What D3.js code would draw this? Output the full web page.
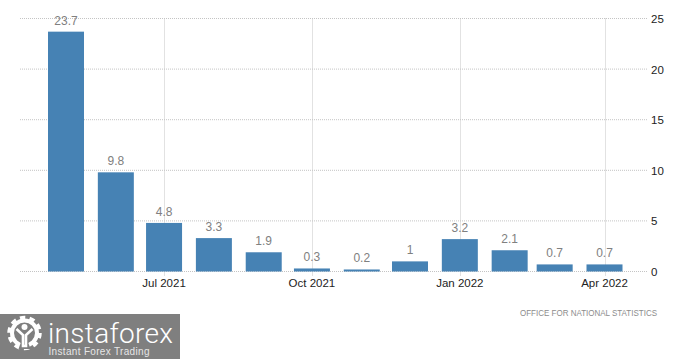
<!DOCTYPE html>
<html>
<head>
<meta charset="utf-8">
<script src="https://cdn.jsdelivr.net/npm/d3@7/dist/d3.min.js"></script>
<style>
  body { margin: 0; background: #fff; }
  svg { display: block; font-family: "Liberation Sans", Arial, sans-serif; }
</style>
</head>
<body>
<svg id="chart"></svg>
<script>
// Chart data
var months = ["2021-05-01", "2021-06-01", "2021-07-01", "2021-08-01", "2021-09-01", "2021-10-01",
              "2021-11-01", "2021-12-01", "2022-01-01", "2022-02-01", "2022-03-01", "2022-04-01"];
var values = [23.7, 9.8, 4.8, 3.3, 1.9, 0.3, 0.2, 1, 3.2, 2.1, 0.7, 0.7];
var xTickMonths = ["2021-07-01", "2021-10-01", "2022-01-01", "2022-04-01"];
var yTicks = [0, 5, 10, 15, 20, 25];
var sourceLabel = "OFFICE FOR NATIONAL STATISTICS";

// General setup
var width = 700;
var height = 359;
var svg = d3.select("#chart")
  .attr("width", width)
  .attr("height", height);

var parseDate = d3.utcParse("%Y-%m-%d");
var formatMonth = d3.utcFormat("%b %Y");

var x = d3.scaleUtc()
  .domain([parseDate(months[0]), parseDate(months[months.length - 1])])
  .range([66, 604.5]);

var y = d3.scaleLinear()
  .domain([0, 25])
  .range([271.5, 18.5]);

var barWidth = 36;
var gridLeft = 20;
var gridRight = 648;

// Horizontal grid
svg.append("g")
  .selectAll("line")
  .data(yTicks)
  .join("line")
  .attr("x1", gridLeft)
  .attr("x2", gridRight)
  .attr("y1", d => y(d))
  .attr("y2", d => y(d))
  .attr("stroke", "#c4c4c4")
  .attr("stroke-dasharray", "1 1");

// Vertical grid, runs a little past the baseline as a tick
svg.append("g")
  .selectAll("line")
  .data(xTickMonths)
  .join("line")
  .attr("x1", d => Math.round(x(parseDate(d))) + 0.5)
  .attr("x2", d => Math.round(x(parseDate(d))) + 0.5)
  .attr("y1", y(25))
  .attr("y2", y(0) + 5)
  .attr("stroke", "#c4c4c4")
  .attr("stroke-dasharray", "1 1");

// Bars
svg.append("g")
  .selectAll("rect")
  .data(months)
  .join("rect")
  .attr("x", d => x(parseDate(d)) - barWidth / 2)
  .attr("width", barWidth)
  .attr("y", (d, i) => y(values[i]))
  .attr("height", (d, i) => y(0) - y(values[i]))
  .attr("fill", "#4682b4");

// Value labels
svg.append("g")
  .selectAll("text")
  .data(months)
  .join("text")
  .attr("x", d => x(parseDate(d)))
  .attr("y", (d, i) => y(values[i]) - 7)
  .attr("text-anchor", "middle")
  .attr("font-size", 12)
  .attr("fill", "#808080")
  .text((d, i) => values[i]);

// Axis labels
svg.append("g")
  .selectAll("text")
  .data(xTickMonths)
  .join("text")
  .attr("x", d => x(parseDate(d)))
  .attr("y", 287)
  .attr("text-anchor", "middle")
  .attr("font-size", 11.5)
  .attr("fill", "#222")
  .text(d => formatMonth(parseDate(d)));

svg.append("g")
  .selectAll("text")
  .data(yTicks)
  .join("text")
  .attr("x", 651)
  .attr("y", d => y(d) + 4.5)
  .attr("font-size", 11.5)
  .attr("fill", "#222")
  .text(d => d);

svg.append("text")
  .attr("x", 520)
  .attr("y", 315.5)
  .attr("font-size", 9)
  .attr("textLength", 137)
  .attr("lengthAdjust", "spacingAndGlyphs")
  .attr("fill", "#8c8c8c")
  .text(sourceLabel);

// Watermark in the bottom left corner
var logo = svg.append("g");
logo.append("rect")
  .attr("y", 314)
  .attr("width", 180)
  .attr("height", 45)
  .attr("fill", "#7f7f7f");

var gear = logo.append("g").attr("transform", "translate(24.5,333)");
gear.append("circle")
  .attr("r", 15)
  .attr("fill", "none")
  .attr("stroke", "#fff")
  .attr("stroke-width", 4.5)
  .attr("stroke-dasharray", "5.2 4.2");
gear.append("circle")
  .attr("r", 12.5)
  .attr("fill", "none")
  .attr("stroke", "#fff")
  .attr("stroke-width", 4);
gear.append("path")
  .attr("d", "M-6,16 L-2,5 L2,5 L6,16 Z")
  .attr("fill", "#7f7f7f");
gear.append("path")
  .attr("d", "M-8,-4 L-1.5,2 L-1.5,13 L1.5,13 L1.5,2 L8,-4")
  .attr("fill", "none")
  .attr("stroke", "#fff")
  .attr("stroke-width", 2.6);
gear.append("circle")
  .attr("cy", -6)
  .attr("r", 3)
  .attr("fill", "#fff");

logo.append("text")
  .attr("x", 48)
  .attr("y", 342.5)
  .attr("font-family", "Roboto, 'Liberation Sans', sans-serif")
  .attr("font-weight", 300)
  .attr("font-size", 28)
  .attr("textLength", 125)
  .attr("lengthAdjust", "spacing")
  .attr("fill", "#fff")
  .text("instaforex");

logo.append("text")
  .attr("x", 48.5)
  .attr("y", 354.5)
  .attr("font-size", 10)
  .attr("textLength", 101)
  .attr("fill", "#e6e6e6")
  .text("Instant Forex Trading");
</script>
</body>
</html>
